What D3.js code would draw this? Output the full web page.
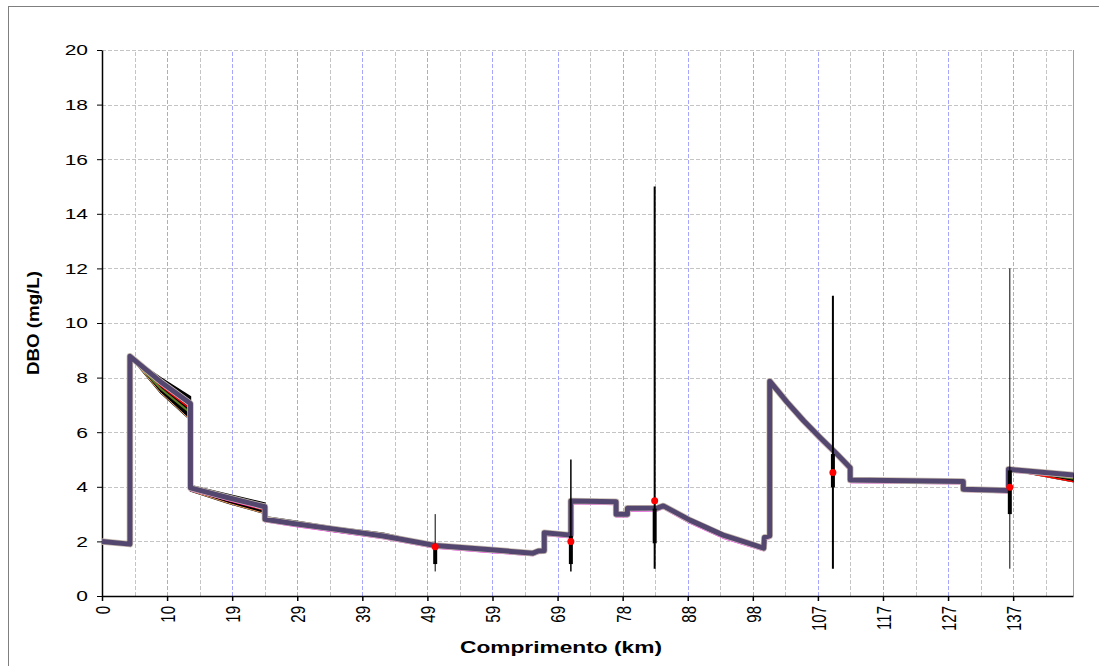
<!DOCTYPE html>
<html>
<head>
<meta charset="utf-8">
<script src="https://cdn.jsdelivr.net/npm/d3@7"></script>
<style>
  body { margin: 0; background: #fff; }
  text { font-family: "Liberation Sans", Arial, sans-serif; }
</style>
</head>
<body>
<div id="graph"></div>
<script>
// distance along the river (km), shared by every simulated profile
const km = [0, 4.2, 4.2, 8.8, 13.3, 13.3, 19, 24.5, 24.5, 29, 35, 42.3, 50.1, 58, 64.8, 65.6, 66.5, 66.5, 70.5, 70.5,
  77.3, 77.3, 79, 79, 83.5, 84.4, 88.4, 93.4, 98, 99.5, 99.6, 100.4, 100.4, 103, 105.5, 108, 110.5, 112.5, 112.5,
  129.5, 129.5, 136.3, 136.3, 146];

// main (calibrated) DBO profile
const dboMain = [2.0, 1.9, 8.78, 7.85, 7.05, 3.96, 3.6, 3.27, 2.81, 2.65, 2.45, 2.2, 1.85, 1.7, 1.57, 1.65, 1.66, 2.32, 2.23, 3.48,
  3.45, 2.99, 2.99, 3.21, 3.22, 3.3, 2.78, 2.23, 1.87, 1.75, 2.15, 2.2, 7.87, 7.1, 6.42, 5.8, 5.2, 4.7, 4.25,
  4.19, 3.91, 3.86, 4.64, 4.43];

// envelope of the other runs
const dboUpper = [2.0, 1.9, 8.78, 8.0, 7.3, 4.05, 3.72, 3.4, 2.9, 2.75, 2.52, 2.3, 1.88, 1.72, 1.58, 1.66, 1.67, 2.33, 2.24, 3.49,
  3.46, 3.0, 3.0, 3.22, 3.23, 3.31, 2.8, 2.25, 1.88, 1.76, 2.16, 2.21, 7.88, 7.11, 6.43, 5.81, 5.21, 4.71, 4.26,
  4.2, 3.92, 3.87, 4.65, 4.5];
const dboLower = [2.0, 1.9, 8.78, 7.45, 6.45, 3.85, 3.4, 3.02, 2.75, 2.58, 2.36, 2.12, 1.81, 1.68, 1.56, 1.64, 1.65, 2.31, 2.22, 3.47,
  3.44, 2.98, 2.98, 3.2, 3.21, 3.29, 2.76, 2.21, 1.85, 1.74, 2.14, 2.19, 7.86, 7.09, 6.41, 5.79, 5.19, 4.69, 4.24,
  4.18, 3.9, 3.85, 4.63, 4.19];
const dboRed = [2.0, 1.9, 8.78, 7.7, 6.85, 3.9, 3.5, 3.15, 2.76, 2.6, 2.38, 2.13, 1.82, 1.69, 1.56, 1.65, 1.66, 2.32, 2.23, 3.48,
  3.45, 2.99, 2.99, 3.21, 3.22, 3.3, 2.82, 2.27, 1.88, 1.75, 2.15, 2.2, 7.87, 7.1, 6.42, 5.8, 5.2, 4.7, 4.25,
  4.19, 3.91, 3.86, 4.64, 4.19];
const dboGreen = [2.0, 1.9, 8.78, 7.6, 6.7, 3.92, 3.55, 3.15, 2.78, 2.62, 2.4, 2.16, 1.83, 1.69, 1.57, 1.65, 1.66, 2.32, 2.23, 3.48,
  3.45, 2.99, 2.99, 3.21, 3.22, 3.3, 2.78, 2.23, 1.87, 1.75, 2.15, 2.2, 7.87, 7.1, 6.42, 5.8, 5.2, 4.7, 4.25,
  4.19, 3.91, 3.86, 4.64, 4.3];
const dboMagenta = [2.0, 1.88, 8.8, 7.8, 7.0, 3.92, 3.55, 3.22, 2.77, 2.6, 2.4, 2.15, 1.8, 1.65, 1.53, 1.61, 1.62, 2.27, 2.18, 3.43,
  3.4, 2.95, 2.95, 3.16, 3.17, 3.26, 2.72, 2.17, 1.82, 1.71, 2.11, 2.16, 7.84, 7.06, 6.37, 5.75, 5.15, 4.65, 4.2,
  4.16, 3.88, 3.83, 4.6, 4.4];

// observed data: min/max whiskers, quartile box and mean
const obsKm = [50.1, 70.5, 83.1, 109.9, 136.5];
const obsMin = [0.9, 0.9, 1.0, 1.0, 1.0];
const obsMax = [3.0, 5.0, 15.0, 11.0, 12.0];
const obsLow = [1.17, 1.17, 1.93, 3.98, 3.0];
const obsHigh = [1.76, 2.2, 3.2, 5.2, 4.6];
const obsMean = [1.8, 2.0, 3.49, 4.52, 3.98];
const obsWidth = [1, 1.5, 2, 2, 1];

// x axis tick labels (category style, evenly spaced)
const xTickLabels = ["0", "10", "19", "29", "39", "49", "59", "69", "78", "88", "98", "107", "117", "127", "137"];
const xTickStep = 137 / 14;
const yTicks = [0, 2, 4, 6, 8, 10, 12, 14, 16, 18, 20];

const width = 1099, height = 666;
const margin = {top: 50, right: 26, bottom: 70, left: 102};
// the original picture is stretched sideways, text included
const stretch = 1.4;

const x = d3.scaleLinear().domain([0, 146]).range([margin.left, width - margin.right]);
const y = d3.scaleLinear().domain([0, 20]).range([height - margin.bottom, margin.top]);

const svg = d3.select("#graph").append("svg")
  .attr("width", width)
  .attr("height", height);

// outer frame
svg.append("rect")
  .attr("x", 8.5).attr("y", 6.5)
  .attr("width", width).attr("height", height)
  .attr("fill", "none").attr("stroke", "#7f7f7f");

// grid
const xMajor = d3.range(1, xTickLabels.length).map(i => i * xTickStep);
const xMinor = d3.range(0, xTickLabels.length).map(i => (i + 0.5) * xTickStep);

svg.append("g").selectAll("line").data(yTicks.slice(1)).join("line")
  .attr("x1", x(0)).attr("x2", x(146))
  .attr("y1", d => Math.round(y(d)) + 0.5).attr("y2", d => Math.round(y(d)) + 0.5)
  .attr("stroke", "#c4c4c4").attr("stroke-dasharray", "4,2");

svg.append("g").selectAll("line").data(xMinor).join("line")
  .attr("x1", d => Math.round(x(d)) + 0.5).attr("x2", d => Math.round(x(d)) + 0.5)
  .attr("y1", y(0)).attr("y2", y(20))
  .attr("stroke", "#c4c4c4").attr("stroke-dasharray", "4,2");

svg.append("g").selectAll("line").data(xMajor).join("line")
  .attr("x1", d => Math.round(x(d)) + 0.5).attr("x2", d => Math.round(x(d)) + 0.5)
  .attr("y1", y(0)).attr("y2", y(20))
  .attr("stroke", "#a6a6ff").attr("stroke-dasharray", "4,2");

// right edge of plot area
svg.append("line")
  .attr("x1", x(146) + 0.5).attr("x2", x(146) + 0.5)
  .attr("y1", y(20)).attr("y2", y(0))
  .attr("stroke", "#a0a0a0");

// axes
const xAxis = d3.axisBottom(x)
  .tickValues(d3.range(xTickLabels.length).map(i => i * xTickStep))
  .tickFormat((d, i) => xTickLabels[i])
  .tickSize(5).tickSizeOuter(0);

svg.append("g")
  .attr("transform", `translate(0,${y(0)})`)
  .call(xAxis)
  .call(g => g.select(".domain").attr("stroke", "#000").attr("stroke-width", 1.5))
  .call(g => g.selectAll(".tick line").attr("stroke-width", 1.5))
  .call(g => g.selectAll(".tick text")
    .attr("font-size", 15)
    .attr("font-family", "Liberation Sans, Arial, sans-serif")
    .attr("fill", "#000")
    .attr("transform", `translate(0,10) scale(${stretch},1) rotate(-90)`)
    .attr("text-anchor", "end")
    .attr("x", 0)
    .attr("y", 0)
    .attr("dy", "0.35em"));

const yAxis = d3.axisLeft(y).tickValues(yTicks).tickSize(5).tickSizeOuter(0);

svg.append("g")
  .attr("transform", `translate(${x(0)},0)`)
  .call(yAxis)
  .call(g => g.select(".domain").attr("stroke", "#000").attr("stroke-width", 1.5))
  .call(g => g.selectAll(".tick text")
    .attr("font-size", 15)
    .attr("font-family", "Liberation Sans, Arial, sans-serif")
    .attr("fill", "#000")
    .attr("x", 0)
    .attr("transform", `translate(-14,0) scale(${stretch},1)`));

// axis titles
svg.append("text")
  .attr("x", 561).attr("y", 653)
  .attr("text-anchor", "middle")
  .attr("font-size", 17).attr("font-weight", "bold")
  .attr("textLength", 202).attr("lengthAdjust", "spacingAndGlyphs")
  .text("Comprimento (km)");

svg.append("text")
  .attr("transform", `translate(39,${(y(0) + y(20)) / 2}) rotate(-90)`)
  .attr("text-anchor", "middle")
  .attr("font-size", 17).attr("font-weight", "bold")
  .attr("textLength", 104).attr("lengthAdjust", "spacingAndGlyphs")
  .text("DBO (mg/L)");

// simulated profiles
const line = d3.line().x((d, i) => x(km[i])).y(d => y(d));
const band = d3.area()
  .x((d, i) => x(km[i]))
  .y0((d, i) => y(dboLower[i]))
  .y1((d, i) => y(dboUpper[i]));

svg.append("path")
  .attr("d", band(km))
  .attr("fill", "#000").attr("stroke", "#000").attr("stroke-width", 1.5);

svg.append("path")
  .attr("d", line(dboLower))
  .attr("fill", "none").attr("stroke", "#f0a060").attr("stroke-width", 1);

svg.append("path")
  .attr("d", line(dboGreen))
  .attr("fill", "none").attr("stroke", "#5f7f2a").attr("stroke-width", 2);

svg.append("path")
  .attr("d", line(dboRed))
  .attr("fill", "none").attr("stroke", "#ff0000").attr("stroke-width", 1.5);

svg.append("path")
  .attr("d", line(dboMagenta))
  .attr("fill", "none").attr("stroke", "#ff00ff").attr("stroke-width", 4)
  .attr("stroke-linejoin", "round");

svg.append("path")
  .attr("d", line(dboMain))
  .attr("fill", "none").attr("stroke", "#c8bcb0").attr("stroke-width", 6.5)
  .attr("stroke-linejoin", "round");

svg.append("path")
  .attr("d", line(dboMain))
  .attr("fill", "none").attr("stroke", "#54476f").attr("stroke-width", 5)
  .attr("stroke-linejoin", "round");

// observations
const obs = svg.append("g").selectAll("g").data(obsKm).join("g");

obs.append("line")
  .attr("x1", d => x(d)).attr("x2", d => x(d))
  .attr("y1", (d, i) => y(obsMax[i])).attr("y2", (d, i) => y(obsMin[i]))
  .attr("stroke", "#000").attr("stroke-width", (d, i) => obsWidth[i]);

obs.append("line")
  .attr("x1", d => x(d)).attr("x2", d => x(d))
  .attr("y1", (d, i) => y(obsHigh[i])).attr("y2", (d, i) => y(obsLow[i]))
  .attr("stroke", "#000").attr("stroke-width", 4);

obs.append("circle")
  .attr("cx", d => x(d))
  .attr("cy", (d, i) => y(obsMean[i]))
  .attr("r", 3.5)
  .attr("fill", "#ff0000");
</script>
</body>
</html>
